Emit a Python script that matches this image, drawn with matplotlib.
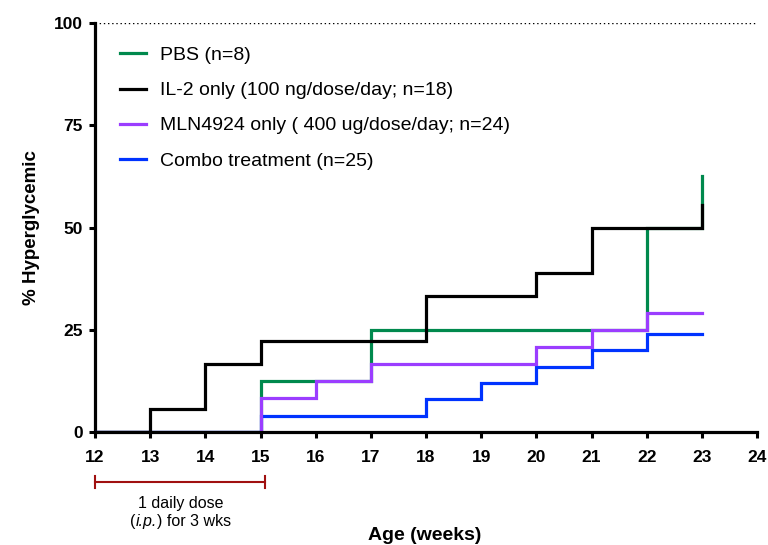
import matplotlib
matplotlib.use("Agg")
import matplotlib.pyplot as plt
import matplotlib.transforms as mtransforms
from matplotlib.offsetbox import TextArea, HPacker, AnnotationBbox

plt.rcParams['font.family'] = ['Liberation Sans', 'DejaVu Sans']

# Data (weeks, % hyperglycemic), step-post
pbs_x = [12, 15, 17, 22, 23]
pbs_y = [0, 12.5, 25, 50, 62.5]
il2_x = [12, 13, 14, 15, 18, 20, 21, 23]
il2_y = [0, 5.56, 16.67, 22.22, 33.33, 38.89, 50, 55.56]
mln_x = [12, 15, 16, 17, 20, 21, 22, 23]
mln_y = [0, 8.33, 12.5, 16.67, 20.83, 25, 29.17, 29.17]
combo_x = [12, 15, 18, 19, 20, 21, 22, 23]
combo_y = [0, 4, 8, 12, 16, 20, 24, 24]

labels = ["PBS (n=8)",
          "IL-2 only (100 ng/dose/day; n=18)",
          "MLN4924 only ( 400 ug/dose/day; n=24)",
          "Combo treatment (n=25)"]
colors = ["#00894D", "#000000", "#9B3DFF", "#0033FF"]
x_ticks = list(range(12, 25))
y_ticks = [0, 25, 50, 75, 100]

fig = plt.figure(figsize=(7.68, 5.45), dpi=100)
ax = fig.add_axes([95/768, 1 - 432/545, (757-95)/768, (432-23)/545])

series = [(pbs_x, pbs_y), (il2_x, il2_y), (mln_x, mln_y), (combo_x, combo_y)]
zorders = [2, 5, 4, 3]
lines = []
for (xs, ys), lab, c, z in zip(series, labels, colors, zorders):
    ln, = ax.plot(xs, ys, drawstyle='steps-post', color=c, lw=2.3, label=lab,
                  zorder=z, solid_joinstyle='miter')
    lines.append(ln)

ax.axhline(100, color='black', lw=1.0, ls=(0, (1, 2)), zorder=1)

ax.set_xlim(12, 24)
ax.set_ylim(0, 100)
ax.set_xticks(x_ticks)
ax.set_yticks(y_ticks)
ax.tick_params(axis='both', direction='out', length=4, width=2.2, labelsize=12.5, pad=5)
ax.tick_params(axis='x', pad=9)
for lab in ax.get_xticklabels() + ax.get_yticklabels():
    lab.set_fontweight('bold')
for s in ['top', 'right']:
    ax.spines[s].set_visible(False)
for s in ['left', 'bottom']:
    ax.spines[s].set_linewidth(2.3)
ax.spines['bottom'].set_zorder(6)

ax.set_ylabel('% Hyperglycemic', fontsize=13.5, fontweight='bold', labelpad=10)
fig.text(425/768, 1 - 536/545, 'Age (weeks)', fontsize=14, fontweight='bold',
         ha='center', va='center')

leg = ax.legend(handles=lines, loc='upper left', bbox_to_anchor=(0.012, 0.985),
                frameon=False, fontsize=14, handlelength=1.3, handletextpad=0.75,
                labelspacing=0.9)
for l in leg.get_lines():
    l.set_linewidth(2.3)

# dosing bracket
trans = mtransforms.blended_transform_factory(ax.transData, ax.transAxes)
red = "#A01010"
ax.plot([12, 15.08], [-0.122, -0.122], color=red, lw=1.5, transform=trans, clip_on=False)
ax.plot([12, 12], [-0.107, -0.137], color=red, lw=1.5, transform=trans, clip_on=False)
ax.plot([15.08, 15.08], [-0.107, -0.137], color=red, lw=1.5, transform=trans, clip_on=False)
ax.text(13.55, -0.176, '1 daily dose', transform=trans, ha='center', va='center', fontsize=11.5)

parts = [TextArea('(', textprops=dict(fontsize=11.5)),
         TextArea('i.p.', textprops=dict(fontsize=11.5, style='italic')),
         TextArea(') for 3 wks', textprops=dict(fontsize=11.5))]
box = HPacker(children=parts, align='baseline', pad=0, sep=0)
ab = AnnotationBbox(box, (13.55, -0.22), xycoords=trans, frameon=False,
                    box_alignment=(0.5, 0.5), annotation_clip=False)
ax.add_artist(ab)

fig.savefig('out.png', dpi=100)
